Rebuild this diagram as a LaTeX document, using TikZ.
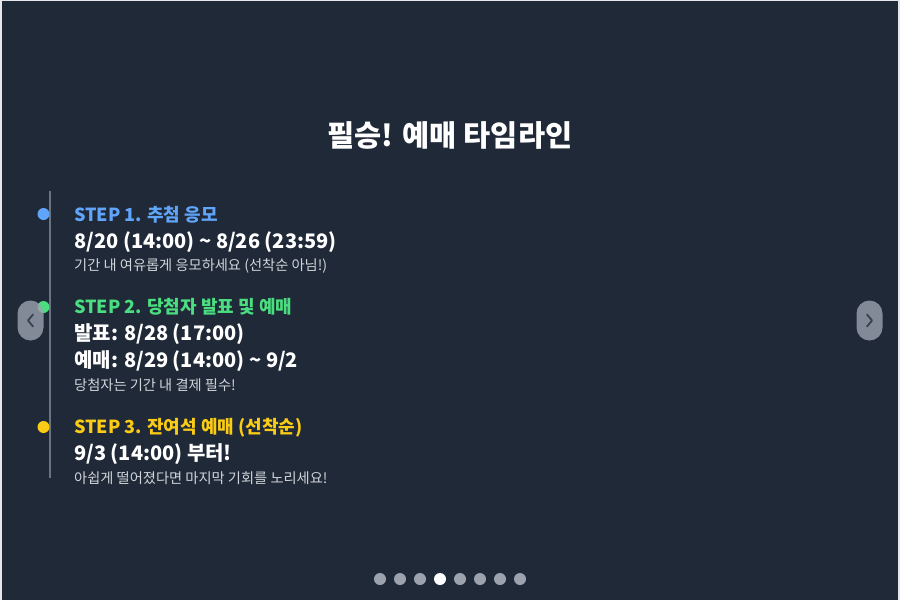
\documentclass[tikz,border=0pt]{standalone}
\usepackage{fontspec}
\setmainfont{Noto Sans CJK KR}
\definecolor{bg}{HTML}{1F2937}
\definecolor{edge}{HTML}{E5E7EB}
\definecolor{sblue}{HTML}{60A5FA}
\definecolor{sgreen}{HTML}{4ADE80}
\definecolor{syellow}{HTML}{FACC15}
\definecolor{subtxt}{HTML}{D1D5DB}
\definecolor{tline}{HTML}{6B7280}
\definecolor{pager}{HTML}{9CA3AF}
\definecolor{chev}{HTML}{374151}
\tikzset{
  steplabel/.style={anchor=base west, inner sep=0pt, font=\fontsize{18}{21}\selectfont\bfseries},
  dateline/.style={anchor=base west, inner sep=0pt, text=white, font=\fontsize{20}{24}\selectfont\bfseries},
  subline/.style={anchor=base west, inner sep=0pt, text=subtxt, font=\fontsize{14.25}{17}\selectfont},
  tdot/.style={circle, inner sep=0pt, minimum size=12pt},
  navbtn/.style={rounded corners=13pt, fill=pager, fill opacity=0.8, draw=none},
  chevron/.style={draw=chev, line width=1.8pt, line cap=round, line join=round},
  pagedot/.style={circle, inner sep=0pt, minimum size=12pt, fill=pager}
}
\begin{document}
\begin{tikzpicture}[x=1pt,y=-1pt]
\useasboundingbox (0,0) rectangle (900,600);
\fill[edge] (0,0) rectangle (900,600);
\fill[bg] (2,1) rectangle (898,600);
% title
\node[anchor=base, inner sep=0pt, text=white, font=\fontsize{29.5}{34}\selectfont\bfseries] (title) at (450,146) {필승! 예매 타임라인};
% timeline
\coordinate (ltop) at (50,191);
\coordinate (lbot) at (50,478);
\draw[tline, line width=2pt] (ltop) -- (lbot);
\node[tdot, fill=sblue] (d1) at (43.5,214) {};
\node[tdot, fill=sgreen] (d2) at (43.5,307) {};
\node[tdot, fill=syellow] (d3) at (43.5,427) {};
% step 1
\node[steplabel, text=sblue] (s1) at (74,221) {STEP 1. 추첨 응모};
\node[dateline] (s1a) at (74,248) {8/20 (14:00) \textasciitilde{} 8/26 (23:59)};
\node[subline] (s1b) at (74,270) {기간 내 여유롭게 응모하세요 (선착순 아님!)};
% step 2
\node[steplabel, text=sgreen] (s2) at (74,313) {STEP 2. 당첨자 발표 및 예매};
\node[dateline] (s2a) at (74,340) {발표: 8/28 (17:00)};
\node[dateline] (s2b) at (74,367) {예매: 8/29 (14:00) \textasciitilde{} 9/2};
\node[subline] (s2c) at (74,390) {당첨자는 기간 내 결제 필수!};
% step 3
\node[steplabel, text=syellow] (s3) at (74,433) {STEP 3. 잔여석 예매 (선착순)};
\node[dateline] (s3a) at (74,460) {9/3 (14:00) 부터!};
\node[subline] (s3b) at (74,483) {아쉽게 떨어졌다면 마지막 기회를 노리세요!};
% nav buttons
\fill[navbtn] (17.5,300.5) rectangle (43.5,340.5);
\draw[chevron] (33,314.5) -- (28,320.5) -- (33,326.5);
\fill[navbtn] (856.5,300.5) rectangle (882.5,340.5);
\draw[chevron] (867,314.5) -- (872,320.5) -- (867,326.5);
% pager dots
\foreach \i/\c in {1/pager,2/pager,3/pager,4/white,5/pager,6/pager,7/pager,8/pager}{
  \node[pagedot, fill=\c] (p\i) at ({360+20*\i},579) {};
}
\end{tikzpicture}
\end{document}
